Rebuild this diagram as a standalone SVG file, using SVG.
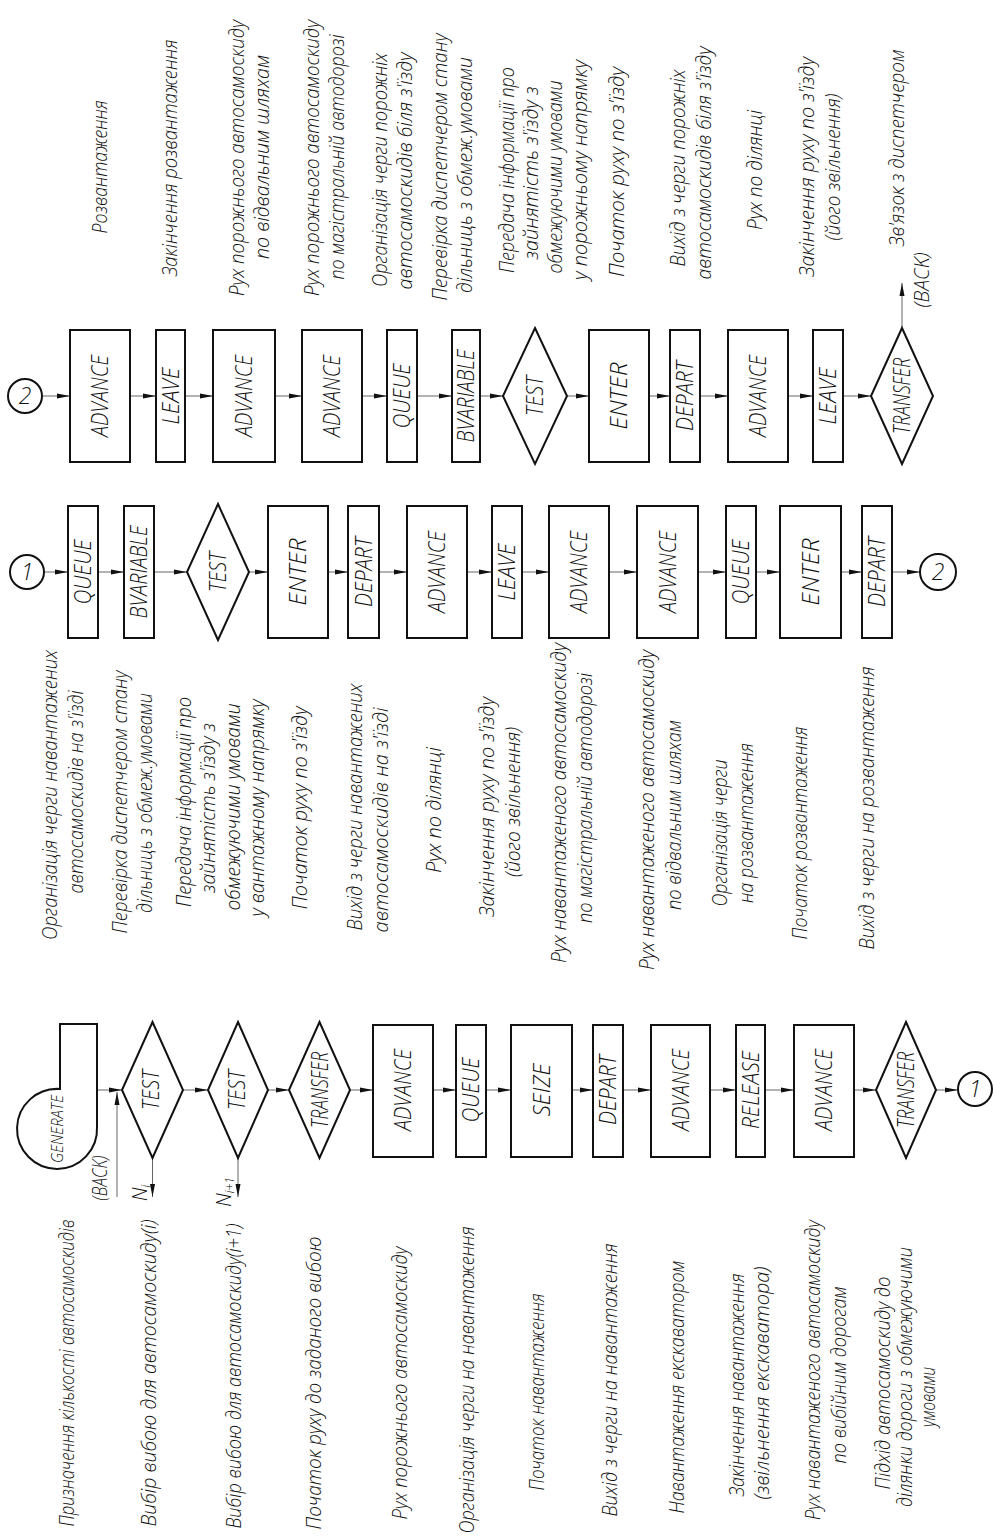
<svg xmlns="http://www.w3.org/2000/svg" width="993" height="1540" viewBox="0 0 993 1540">
<style>
.b{fill:none;stroke:#111;stroke-width:2}
.c{fill:none;stroke:#666;stroke-width:1;marker-end:url(#ah)}
.l{font-family:"Open Sans","Liberation Sans",Arial,sans-serif;font-weight:300;font-style:italic;font-size:23px;fill:#111;text-anchor:middle}
.d{font-family:"Open Sans","Liberation Sans",Arial,sans-serif;font-weight:300;font-style:italic;font-size:20px;fill:#111;text-anchor:middle}
</style>
<defs>
<marker id="ah" viewBox="0 0 13 6" refX="13" refY="3" markerWidth="13" markerHeight="6" markerUnits="userSpaceOnUse" orient="auto">
<path d="M0,0.5 L13,3 L0,5.5 z" fill="#111"/>
</marker>
</defs>
<rect width="993" height="1540" fill="#fff"/>

<g id="connectors">
<line class="c" x1="42" y1="396" x2="70" y2="396"/>
<line class="c" x1="130" y1="396" x2="156" y2="396"/>
<line class="c" x1="185" y1="396" x2="213" y2="396"/>
<line class="c" x1="275" y1="396" x2="302" y2="396"/>
<line class="c" x1="362" y1="396" x2="387" y2="396"/>
<line class="c" x1="417" y1="396" x2="452" y2="396"/>
<line class="c" x1="480" y1="396" x2="503" y2="396"/>
<line class="c" x1="567" y1="396" x2="589" y2="396"/>
<line class="c" x1="649" y1="396" x2="670" y2="396"/>
<line class="c" x1="700" y1="396" x2="728" y2="396"/>
<line class="c" x1="788" y1="396" x2="813" y2="396"/>
<line class="c" x1="843" y1="396" x2="871" y2="396"/>
<line class="c" x1="902" y1="328" x2="902" y2="283"/>
<line class="c" x1="44" y1="572" x2="68" y2="572"/>
<line class="c" x1="98" y1="572" x2="124" y2="572"/>
<line class="c" x1="154" y1="572" x2="187" y2="572"/>
<line class="c" x1="249" y1="572" x2="268" y2="572"/>
<line class="c" x1="328" y1="572" x2="348" y2="572"/>
<line class="c" x1="379" y1="572" x2="407" y2="572"/>
<line class="c" x1="467" y1="572" x2="492" y2="572"/>
<line class="c" x1="522" y1="572" x2="549" y2="572"/>
<line class="c" x1="609" y1="572" x2="637" y2="572"/>
<line class="c" x1="698" y1="572" x2="726" y2="572"/>
<line class="c" x1="756" y1="572" x2="780" y2="572"/>
<line class="c" x1="841" y1="572" x2="862" y2="572"/>
<line class="c" x1="892" y1="572" x2="920" y2="572"/>
<line class="c" x1="97" y1="1090" x2="122" y2="1090"/>
<line class="c" x1="183" y1="1090" x2="208" y2="1090"/>
<line class="c" x1="268" y1="1090" x2="289" y2="1090"/>
<line class="c" x1="350" y1="1090" x2="373" y2="1090"/>
<line class="c" x1="433" y1="1090" x2="456" y2="1090"/>
<line class="c" x1="486" y1="1090" x2="511" y2="1090"/>
<line class="c" x1="572" y1="1090" x2="593" y2="1090"/>
<line class="c" x1="623" y1="1090" x2="651" y2="1090"/>
<line class="c" x1="710" y1="1090" x2="736" y2="1090"/>
<line class="c" x1="765" y1="1090" x2="794" y2="1090"/>
<line class="c" x1="854" y1="1090" x2="876" y2="1090"/>
<line class="c" x1="936" y1="1090" x2="958" y2="1090"/>
<line class="c" x1="117" y1="1197" x2="117" y2="1092"/>
<line class="c" x1="152.5" y1="1158" x2="152.5" y2="1197"/>
<line class="c" x1="238" y1="1158" x2="238" y2="1197"/>
</g>

<g id="r3-c2">
<circle class="b" cx="25" cy="396" r="17"/>
<text class="l" x="25" y="404">2</text>
</g>
<g id="r3-advance1">
<rect class="b" x="70" y="330" width="60" height="132"/>
<text class="l" transform="translate(108,396) rotate(-90)" textLength="82" lengthAdjust="spacingAndGlyphs">ADVANCE</text>
<text class="d" transform="translate(107,167) rotate(-90)" textLength="133" lengthAdjust="spacingAndGlyphs">Розвантаження</text>
</g>
<g id="r3-leave1">
<rect class="b" x="156" y="330" width="29" height="132"/>
<text class="l" transform="translate(178.5,396) rotate(-90)" textLength="57" lengthAdjust="spacingAndGlyphs">LEAVE</text>
<text class="d" transform="translate(177,158) rotate(-90)" textLength="237" lengthAdjust="spacingAndGlyphs">Закінчення розвантаження</text>
</g>
<g id="r3-advance2">
<rect class="b" x="213" y="330" width="62" height="132"/>
<text class="l" transform="translate(252,396) rotate(-90)" textLength="82" lengthAdjust="spacingAndGlyphs">ADVANCE</text>
<text class="d" transform="translate(244,158) rotate(-90)" textLength="276" lengthAdjust="spacingAndGlyphs">Рух порожнього автосамоскиду</text>
<text class="d" transform="translate(269,157) rotate(-90)" textLength="204" lengthAdjust="spacingAndGlyphs">по відвальним шляхам</text>
</g>
<g id="r3-advance3">
<rect class="b" x="302" y="330" width="60" height="132"/>
<text class="l" transform="translate(340,396) rotate(-90)" textLength="82" lengthAdjust="spacingAndGlyphs">ADVANCE</text>
<text class="d" transform="translate(319,158) rotate(-90)" textLength="276" lengthAdjust="spacingAndGlyphs">Рух порожнього автосамоскиду</text>
<text class="d" transform="translate(344,157) rotate(-90)" textLength="245" lengthAdjust="spacingAndGlyphs">по магістральній автодорозі</text>
</g>
<g id="r3-queue">
<rect class="b" x="387" y="330" width="30" height="132"/>
<text class="l" transform="translate(410,396) rotate(-90)" textLength="65" lengthAdjust="spacingAndGlyphs">QUEUE</text>
<text class="d" transform="translate(387,170) rotate(-90)" textLength="234" lengthAdjust="spacingAndGlyphs">Організація черги порожніх</text>
<text class="d" transform="translate(412,171) rotate(-90)" textLength="237" lengthAdjust="spacingAndGlyphs">автосамоскидів біля з'їзду</text>
</g>
<g id="r3-bvariable">
<rect class="b" x="452" y="330" width="28" height="132"/>
<text class="l" transform="translate(474,396) rotate(-90)" textLength="93" lengthAdjust="spacingAndGlyphs">BVARIABLE</text>
<text class="d" transform="translate(447,167) rotate(-90)" textLength="267" lengthAdjust="spacingAndGlyphs">Перевірка диспетчером стану</text>
<text class="d" transform="translate(472,175) rotate(-90)" textLength="236" lengthAdjust="spacingAndGlyphs">дільниць з обмеж.умовами</text>
</g>
<g id="r3-test">
<polygon class="b" points="535,328 567,396 535,464 503,396"/>
<text class="l" transform="translate(543,396) rotate(-90)" textLength="40" lengthAdjust="spacingAndGlyphs">TEST</text>
<text class="d" transform="translate(514,170) rotate(-90)" textLength="206" lengthAdjust="spacingAndGlyphs">Передача інформації про</text>
<text class="d" transform="translate(538,173) rotate(-90)" textLength="173" lengthAdjust="spacingAndGlyphs">зайнятість з'їзду з</text>
<text class="d" transform="translate(562,177) rotate(-90)" textLength="193" lengthAdjust="spacingAndGlyphs">обмежуючими умовами</text>
<text class="d" transform="translate(587,170) rotate(-90)" textLength="220" lengthAdjust="spacingAndGlyphs">у порожньому напрямку</text>
</g>
<g id="r3-enter">
<rect class="b" x="589" y="330" width="60" height="132"/>
<text class="l" transform="translate(627,396) rotate(-90)" textLength="67" lengthAdjust="spacingAndGlyphs">ENTER</text>
<text class="d" transform="translate(624,172) rotate(-90)" textLength="210" lengthAdjust="spacingAndGlyphs">Початок руху по з'їзду</text>
</g>
<g id="r3-depart">
<rect class="b" x="670" y="330" width="30" height="132"/>
<text class="l" transform="translate(693,396) rotate(-90)" textLength="70" lengthAdjust="spacingAndGlyphs">DEPART</text>
<text class="d" transform="translate(685,168) rotate(-90)" textLength="197" lengthAdjust="spacingAndGlyphs">Вихід з черги порожніх</text>
<text class="d" transform="translate(711,163) rotate(-90)" textLength="233" lengthAdjust="spacingAndGlyphs">автосамоскидів  біля з'їзду</text>
</g>
<g id="r3-advance4">
<rect class="b" x="728" y="330" width="60" height="132"/>
<text class="l" transform="translate(766,396) rotate(-90)" textLength="82" lengthAdjust="spacingAndGlyphs">ADVANCE</text>
<text class="d" transform="translate(762,170) rotate(-90)" textLength="120" lengthAdjust="spacingAndGlyphs">Рух по ділянці</text>
</g>
<g id="r3-leave2">
<rect class="b" x="813" y="330" width="30" height="132"/>
<text class="l" transform="translate(836,396) rotate(-90)" textLength="57" lengthAdjust="spacingAndGlyphs">LEAVE</text>
<text class="d" transform="translate(814,167) rotate(-90)" textLength="220" lengthAdjust="spacingAndGlyphs">Закінчення руху по з'їзду</text>
<text class="d" transform="translate(840,167) rotate(-90)" textLength="147" lengthAdjust="spacingAndGlyphs">(його звільнення)</text>
</g>
<g id="r3-transfer">
<polygon class="b" points="902,328 933,396 902,464 871,396"/>
<text class="l" transform="translate(910,396) rotate(-90)" textLength="76" lengthAdjust="spacingAndGlyphs">TRANSFER</text>
<text class="d" transform="translate(904,148) rotate(-90)" textLength="197" lengthAdjust="spacingAndGlyphs">Зв'язок з диспетчером</text>
<text class="d" transform="translate(929,280) rotate(-90)" textLength="55" lengthAdjust="spacingAndGlyphs">(BACK)</text>
</g>

<g id="r2-c1">
<circle class="b" cx="27" cy="572" r="17"/>
<text class="l" x="27" y="580">1</text>
</g>
<g id="r2-queue1">
<rect class="b" x="68" y="506" width="30" height="132"/>
<text class="l" transform="translate(91,572) rotate(-90)" textLength="65" lengthAdjust="spacingAndGlyphs">QUEUE</text>
<text class="d" transform="translate(57,795) rotate(-90)" textLength="290" lengthAdjust="spacingAndGlyphs">Організація черги навантажених</text>
<text class="d" transform="translate(83,792) rotate(-90)" textLength="203" lengthAdjust="spacingAndGlyphs">автосамоскидів на з'їзді</text>
</g>
<g id="r2-bvariable">
<rect class="b" x="124" y="506" width="30" height="132"/>
<text class="l" transform="translate(147,572) rotate(-90)" textLength="93" lengthAdjust="spacingAndGlyphs">BVARIABLE</text>
<text class="d" transform="translate(127,802) rotate(-90)" textLength="263" lengthAdjust="spacingAndGlyphs">Перевірка диспетчером стану</text>
<text class="d" transform="translate(152,803) rotate(-90)" textLength="220" lengthAdjust="spacingAndGlyphs">дільниць з обмеж.умовами</text>
</g>
<g id="r2-test">
<polygon class="b" points="218,504 249,572 218,640 187,572"/>
<text class="l" transform="translate(226,572) rotate(-90)" textLength="40" lengthAdjust="spacingAndGlyphs">TEST</text>
<text class="d" transform="translate(191,802) rotate(-90)" textLength="210" lengthAdjust="spacingAndGlyphs">Передача інформації про</text>
<text class="d" transform="translate(215,808) rotate(-90)" textLength="170" lengthAdjust="spacingAndGlyphs">зайнятість з'їзду з</text>
<text class="d" transform="translate(240,807) rotate(-90)" textLength="207" lengthAdjust="spacingAndGlyphs">обмежуючими умовами</text>
<text class="d" transform="translate(264,808) rotate(-90)" textLength="217" lengthAdjust="spacingAndGlyphs">у вантажному напрямку</text>
</g>
<g id="r2-enter1">
<rect class="b" x="268" y="506" width="60" height="132"/>
<text class="l" transform="translate(306,572) rotate(-90)" textLength="67" lengthAdjust="spacingAndGlyphs">ENTER</text>
<text class="d" transform="translate(307,808) rotate(-90)" textLength="203" lengthAdjust="spacingAndGlyphs">Початок руху по з'їзду</text>
</g>
<g id="r2-depart1">
<rect class="b" x="348" y="506" width="31" height="132"/>
<text class="l" transform="translate(371.5,572) rotate(-90)" textLength="70" lengthAdjust="spacingAndGlyphs">DEPART</text>
<text class="d" transform="translate(362,807) rotate(-90)" textLength="247" lengthAdjust="spacingAndGlyphs">Вихід з черги навантажених</text>
<text class="d" transform="translate(388,820) rotate(-90)" textLength="225" lengthAdjust="spacingAndGlyphs">автосамоскидів  на з'їзді</text>
</g>
<g id="r2-advance1">
<rect class="b" x="407" y="506" width="60" height="132"/>
<text class="l" transform="translate(445,572) rotate(-90)" textLength="82" lengthAdjust="spacingAndGlyphs">ADVANCE</text>
<text class="d" transform="translate(441,810) rotate(-90)" textLength="126" lengthAdjust="spacingAndGlyphs">Рух по ділянці</text>
</g>
<g id="r2-leave">
<rect class="b" x="492" y="506" width="30" height="132"/>
<text class="l" transform="translate(515,572) rotate(-90)" textLength="57" lengthAdjust="spacingAndGlyphs">LEAVE</text>
<text class="d" transform="translate(494,807) rotate(-90)" textLength="220" lengthAdjust="spacingAndGlyphs">Закінчення руху по з'їзду</text>
<text class="d" transform="translate(520,802) rotate(-90)" textLength="150" lengthAdjust="spacingAndGlyphs">(його звільнення)</text>
</g>
<g id="r2-advance2">
<rect class="b" x="549" y="506" width="60" height="132"/>
<text class="l" transform="translate(587,572) rotate(-90)" textLength="82" lengthAdjust="spacingAndGlyphs">ADVANCE</text>
<text class="d" transform="translate(566,803) rotate(-90)" textLength="320" lengthAdjust="spacingAndGlyphs">Рух навантаженого автосамоскиду</text>
<text class="d" transform="translate(592,798) rotate(-90)" textLength="250" lengthAdjust="spacingAndGlyphs">по магістральній автодорозі</text>
</g>
<g id="r2-advance3">
<rect class="b" x="637" y="506" width="61" height="132"/>
<text class="l" transform="translate(675.5,572) rotate(-90)" textLength="82" lengthAdjust="spacingAndGlyphs">ADVANCE</text>
<text class="d" transform="translate(654,810) rotate(-90)" textLength="320" lengthAdjust="spacingAndGlyphs">Рух навантаженого автосамоскиду</text>
<text class="d" transform="translate(681,815) rotate(-90)" textLength="190" lengthAdjust="spacingAndGlyphs">по відвальним шляхам</text>
</g>
<g id="r2-queue2">
<rect class="b" x="726" y="506" width="30" height="132"/>
<text class="l" transform="translate(749,572) rotate(-90)" textLength="65" lengthAdjust="spacingAndGlyphs">QUEUE</text>
<text class="d" transform="translate(727,833) rotate(-90)" textLength="147" lengthAdjust="spacingAndGlyphs">Організація черги</text>
<text class="d" transform="translate(753,823) rotate(-90)" textLength="160" lengthAdjust="spacingAndGlyphs">на розвантаження</text>
</g>
<g id="r2-enter2">
<rect class="b" x="780" y="506" width="61" height="132"/>
<text class="l" transform="translate(818.5,572) rotate(-90)" textLength="67" lengthAdjust="spacingAndGlyphs">ENTER</text>
<text class="d" transform="translate(807,833) rotate(-90)" textLength="213" lengthAdjust="spacingAndGlyphs">Початок розвантаження</text>
</g>
<g id="r2-depart2">
<rect class="b" x="862" y="506" width="30" height="132"/>
<text class="l" transform="translate(885,572) rotate(-90)" textLength="70" lengthAdjust="spacingAndGlyphs">DEPART</text>
<text class="d" transform="translate(874,808) rotate(-90)" textLength="283" lengthAdjust="spacingAndGlyphs">Вихід з черги на розвантаження</text>
</g>
<g id="r2-c2">
<circle class="b" cx="938" cy="572" r="18"/>
<text class="l" x="938" y="580">2</text>
</g>

<g id="r1-generate">
<path class="b" d="M60,1089 L60,1024 L97,1024 L97,1127 A40,40 0 1 1 60,1089 Z"/>
<text class="l" style="font-size:17px" transform="translate(63,1129) rotate(-90)" textLength="68" lengthAdjust="spacingAndGlyphs">GENERATE</text>
<text class="d" transform="translate(74,1373) rotate(-90)" textLength="307" lengthAdjust="spacingAndGlyphs">Призначення кількості автосамоскидів</text>
<text class="d" transform="translate(107,1178) rotate(-90)" textLength="45" lengthAdjust="spacingAndGlyphs">(BACK)</text>
</g>
<g id="r1-test1">
<polygon class="b" points="152.5,1022 183,1090 152.5,1158 122,1090"/>
<text class="l" transform="translate(158.5,1090) rotate(-90)" textLength="40" lengthAdjust="spacingAndGlyphs">TEST</text>
<text class="d" transform="translate(147,1193) rotate(-90)">N<tspan style="font-size:12px" dy="3">i</tspan></text>
<text class="d" transform="translate(156,1373) rotate(-90)" textLength="307" lengthAdjust="spacingAndGlyphs">Вибір вибою для автосамоскиду(і)</text>
</g>
<g id="r1-test2">
<polygon class="b" points="238,1022 268,1090 238,1158 208,1090"/>
<text class="l" transform="translate(244.5,1090) rotate(-90)" textLength="40" lengthAdjust="spacingAndGlyphs">TEST</text>
<text class="d" transform="translate(231,1192) rotate(-90)">N<tspan style="font-size:12px" dy="3">i+1</tspan></text>
<text class="d" transform="translate(241,1376) rotate(-90)" textLength="305" lengthAdjust="spacingAndGlyphs">Вибір вибою для автосамоскиду(і+1)</text>
</g>
<g id="r1-transfer1">
<polygon class="b" points="319.5,1022 350,1090 319.5,1158 289,1090"/>
<text class="l" transform="translate(327.5,1090) rotate(-90)" textLength="76" lengthAdjust="spacingAndGlyphs">TRANSFER</text>
<text class="d" transform="translate(321,1383) rotate(-90)" textLength="293" lengthAdjust="spacingAndGlyphs">Початок руху до заданого вибою</text>
</g>
<g id="r1-advance1">
<rect class="b" x="373" y="1025" width="60" height="132"/>
<text class="l" transform="translate(411,1090) rotate(-90)" textLength="82" lengthAdjust="spacingAndGlyphs">ADVANCE</text>
<text class="d" transform="translate(407,1383) rotate(-90)" textLength="273" lengthAdjust="spacingAndGlyphs">Рух порожнього автосамоскиду</text>
</g>
<g id="r1-queue">
<rect class="b" x="456" y="1025" width="30" height="132"/>
<text class="l" transform="translate(479,1090) rotate(-90)" textLength="65" lengthAdjust="spacingAndGlyphs">QUEUE</text>
<text class="d" transform="translate(474,1380) rotate(-90)" textLength="307" lengthAdjust="spacingAndGlyphs">Організація черги на навантаження</text>
</g>
<g id="r1-seize">
<rect class="b" x="511" y="1025" width="61" height="132"/>
<text class="l" transform="translate(549.5,1090) rotate(-90)" textLength="53" lengthAdjust="spacingAndGlyphs">SEIZE</text>
<text class="d" transform="translate(544,1392) rotate(-90)" textLength="197" lengthAdjust="spacingAndGlyphs">Початок навантаження</text>
</g>
<g id="r1-depart">
<rect class="b" x="593" y="1025" width="30" height="132"/>
<text class="l" transform="translate(616,1090) rotate(-90)" textLength="70" lengthAdjust="spacingAndGlyphs">DEPART</text>
<text class="d" transform="translate(617,1380) rotate(-90)" textLength="273" lengthAdjust="spacingAndGlyphs">Вихід з черги на навантаження</text>
</g>
<g id="r1-advance2">
<rect class="b" x="651" y="1025" width="59" height="132"/>
<text class="l" transform="translate(688.5,1090) rotate(-90)" textLength="82" lengthAdjust="spacingAndGlyphs">ADVANCE</text>
<text class="d" transform="translate(684,1387) rotate(-90)" textLength="253" lengthAdjust="spacingAndGlyphs">Навантаження екскаватором</text>
</g>
<g id="r1-release">
<rect class="b" x="736" y="1025" width="29" height="132"/>
<text class="l" transform="translate(758.5,1090) rotate(-90)" textLength="78" lengthAdjust="spacingAndGlyphs">RELEASE</text>
<text class="d" transform="translate(744,1385) rotate(-90)" textLength="223" lengthAdjust="spacingAndGlyphs">Закінчення навантаження</text>
<text class="d" transform="translate(769,1383) rotate(-90)" textLength="233" lengthAdjust="spacingAndGlyphs">(звільнення екскаватора)</text>
</g>
<g id="r1-advance3">
<rect class="b" x="794" y="1025" width="60" height="132"/>
<text class="l" transform="translate(832,1090) rotate(-90)" textLength="82" lengthAdjust="spacingAndGlyphs">ADVANCE</text>
<text class="d" transform="translate(820,1370) rotate(-90)" textLength="300" lengthAdjust="spacingAndGlyphs">Рух навантаженого автосамоскиду</text>
<text class="d" transform="translate(846,1375) rotate(-90)" textLength="177" lengthAdjust="spacingAndGlyphs">по вибійним дорогам</text>
</g>
<g id="r1-transfer2">
<polygon class="b" points="906,1022 936,1090 906,1158 876,1090"/>
<text class="l" transform="translate(914,1090) rotate(-90)" textLength="76" lengthAdjust="spacingAndGlyphs">TRANSFER</text>
<text class="d" transform="translate(890,1383) rotate(-90)" textLength="213" lengthAdjust="spacingAndGlyphs">Підхід автосамоскиду до</text>
<text class="d" transform="translate(912,1377) rotate(-90)" textLength="260" lengthAdjust="spacingAndGlyphs">ділянки дороги з обмежуючими</text>
<text class="d" transform="translate(935,1397) rotate(-90)" textLength="60" lengthAdjust="spacingAndGlyphs">умовами</text>
</g>
<g id="r1-c1">
<circle class="b" cx="975" cy="1089" r="17"/>
<text class="l" x="975" y="1097">1</text>
</g>
</svg>
